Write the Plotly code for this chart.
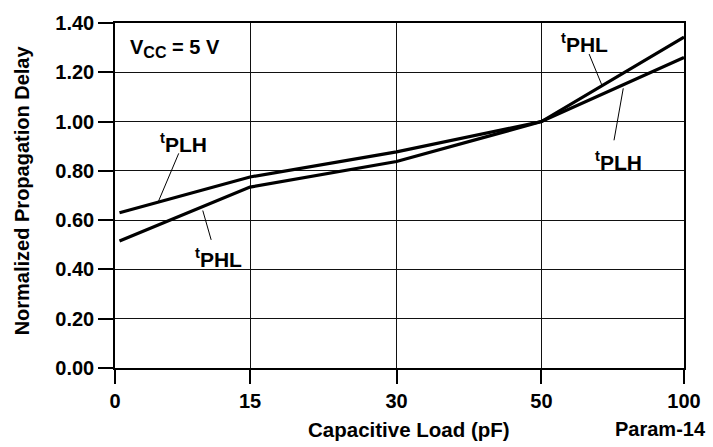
import numpy as np
import plotly.graph_objects as go

# ---- data ----
load_ticks = [0, 15, 30, 50, 100]          # pF, tick labels on the x axis
load_pf = [0.5, 15, 30, 50, 100]           # pF, measured points
t_plh = [0.63, 0.775, 0.877, 1.0, 1.26]    # normalized propagation delay
t_phl = [0.515, 0.734, 0.838, 1.0, 1.343]
y_ticks = [0.0, 0.2, 0.4, 0.6, 0.8, 1.0, 1.2, 1.4]

# the datasheet's x axis is a non-linear scale: tick positions along the axis
tick_pos = [0, 0.949, 1.979, 2.998, 4.0]
def xscale(v):
    return np.interp(v, load_ticks, tick_pos)

FONT = "Liberation Sans, Arial, Helvetica, sans-serif"
fig = go.Figure()
for ys in (t_plh, t_phl):
    fig.add_trace(go.Scatter(x=xscale(load_pf), y=ys, mode="lines",
                             line=dict(color="black", width=3.2),
                             showlegend=False, hoverinfo="skip"))

# leader lines (axis coordinates)
leaders = [((0.448, 0.871), (0.303, 0.673)),
           ((0.617, 0.639), (0.676, 0.520)),
           ((3.333, 1.274), (3.427, 1.142)),
           ((3.508, 0.924), (3.573, 1.135))]
for (x0, y0), (x1, y1) in leaders:
    fig.add_shape(type="line", x0=x0, y0=y0, x1=x1, y1=y1,
                  line=dict(color="black", width=1))

labels = [(0.479, 0.915, "<sup>t</sup>PLH"),
          (0.727, 0.445, "<sup>t</sup>PHL"),
          (3.304, 1.320, "<sup>t</sup>PHL"),
          (3.538, 0.838, "<sup>t</sup>PLH")]
for x, y, t in labels:
    fig.add_annotation(x=x, y=y, text=t, showarrow=False,
                       font=dict(size=21, color="black", family=FONT, weight="bold"))

fig.add_annotation(x=0.09, y=1.295,
                   text="V<sub><span style='font-size:16px'>CC</span></sub> = 5 V",
                   showarrow=False, xanchor="left", yanchor="middle",
                   font=dict(size=20, color="black", family=FONT, weight="bold"))

fig.add_annotation(xref="paper", yref="paper", x=-0.164, y=0.514,
                   text="Normalized Propagation Delay", textangle=-90,
                   showarrow=False, xanchor="center", yanchor="middle",
                   font=dict(size=20, color="black", family=FONT, weight="bold"))
fig.add_annotation(xref="paper", yref="paper", x=0.5175, y=-0.178,
                   text="Capacitive Load (pF)", showarrow=False,
                   xanchor="center", yanchor="middle",
                   font=dict(size=20.5, color="black", family=FONT, weight="bold"))
fig.add_annotation(xref="paper", yref="paper", x=1.043, y=-0.178,
                   text="Param-14", showarrow=False,
                   xanchor="right", yanchor="middle",
                   font=dict(size=20, color="black", family=FONT, weight="bold"))

fig.update_xaxes(range=[0, 4], tickvals=tick_pos, ticktext=[str(v) for v in load_ticks],
                 showgrid=True, gridcolor="#111", gridwidth=1,
                 showline=True, mirror=True, linecolor="black", linewidth=1.5,
                 ticks="outside", ticklen=14, tickcolor="black", tickwidth=1.5,
                 zeroline=False,
                 tickfont=dict(size=20, color="black", family=FONT, weight="bold"))
fig.update_yaxes(range=[0, 1.4], tickvals=y_ticks, ticktext=[f"{v:.2f}" for v in y_ticks],
                 showgrid=True, gridcolor="#111", gridwidth=1,
                 showline=True, mirror=True, linecolor="black", linewidth=1.5,
                 ticks="outside", ticklen=15, tickcolor="black", tickwidth=1.5,
                 zeroline=False,
                 tickfont=dict(size=20, color="black", family=FONT, weight="bold"))

fig.update_layout(width=713, height=447, margin=dict(l=115, r=26, t=15, b=79),
                  plot_bgcolor="white", paper_bgcolor="white",
                  font=dict(family=FONT, color="black"))
fig.write_html("out.html")
